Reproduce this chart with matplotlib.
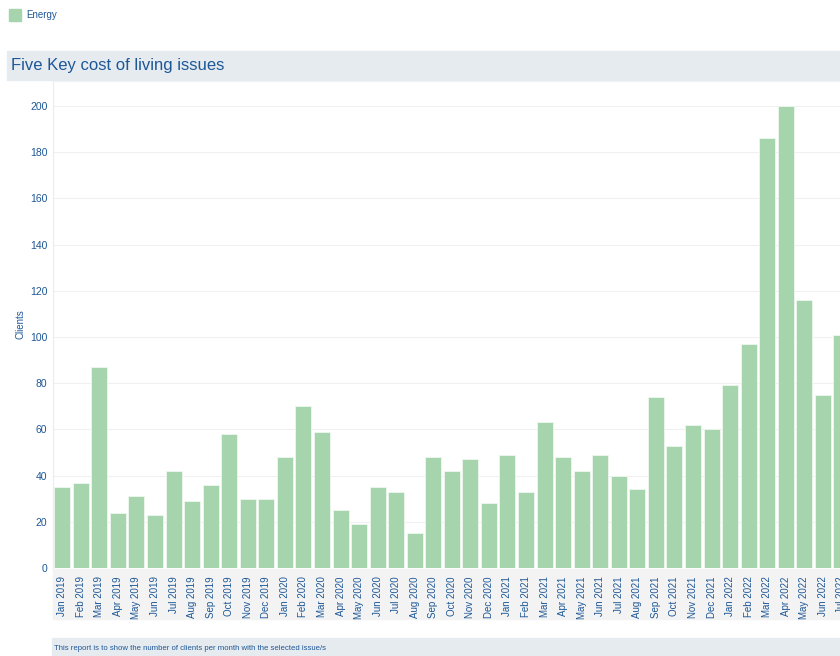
import matplotlib
matplotlib.use("Agg")
import matplotlib.pyplot as plt
from matplotlib.patches import Rectangle

plt.rcParams["font.family"] = ["Liberation Sans", "DejaVu Sans"]

months = [
    "Jan 2019", "Feb 2019", "Mar 2019", "Apr 2019", "May 2019", "Jun 2019",
    "Jul 2019", "Aug 2019", "Sep 2019", "Oct 2019", "Nov 2019", "Dec 2019",
    "Jan 2020", "Feb 2020", "Mar 2020", "Apr 2020", "May 2020", "Jun 2020",
    "Jul 2020", "Aug 2020", "Sep 2020", "Oct 2020", "Nov 2020", "Dec 2020",
    "Jan 2021", "Feb 2021", "Mar 2021", "Apr 2021", "May 2021", "Jun 2021",
    "Jul 2021", "Aug 2021", "Sep 2021", "Oct 2021", "Nov 2021", "Dec 2021",
    "Jan 2022", "Feb 2022", "Mar 2022", "Apr 2022", "May 2022", "Jun 2022",
    "Jul 2022",
]
energy = [
    35, 37, 87, 24, 31, 23, 42, 29, 36, 58, 30, 30,
    48, 70, 59, 25, 19, 35, 33, 15, 48, 42, 47, 28,
    49, 33, 63, 48, 42, 49, 40, 34, 74, 53, 62, 60,
    79, 97, 186, 200, 116, 75, 101,
]
y_ticks = [0, 20, 40, 60, 80, 100, 120, 140, 160, 180, 200]

BAR = "#a6d5ad"
BLUE = "#1d5796"
BAND = "#e6ebf0"

W, H = 840, 656
fig = plt.figure(figsize=(W / 100, H / 100), dpi=100)

def fx(px):
    return px / W

def fy(py):
    return 1 - py / H

def band(x0, y0, x1, y1, color):
    # rectangle in pixel coords, drawn behind the axes
    fig.patches.append(Rectangle((fx(x0), fy(y1)), fx(x1 - x0), (y1 - y0) / H,
                                 color=color, transform=fig.transFigure, zorder=-5))

# legend swatch + label
band(9, 9, 21, 21, BAR)
fig.text(fx(26), fy(15), "Energy", fontsize=7, color=BLUE, va="center")

# title band
band(7, 51, 850, 80, BAND)
fig.text(fx(11), fy(65.5), "Five Key cost of living issues", fontsize=12,
         color=BLUE, va="center")

# grey strip behind the month labels
band(53, 569, 850, 619, "#f3f3f3")

# footer band
band(52, 638, 850, 660, BAND)
fig.text(fx(54), fy(649), "This report is to show the number of clients per month with the selected issue/s",
         fontsize=5.6, color=BLUE, va="center")

n_visible = 46
ax_w = n_visible * 18.55 / W
ax = fig.add_axes([fx(53), fy(568), ax_w, (568 - 81) / H])
ax.set_facecolor("none")
x = list(range(len(months)))
ax.bar(x, energy, width=0.86, color=BAR, edgecolor="#eef7ef", linewidth=0.6, zorder=2)
ax.set_xlim(-0.5, n_visible - 0.5)
ax.set_ylim(0, 210.8)
ax.set_yticks(y_ticks)
ax.set_yticklabels([str(v) for v in y_ticks], fontsize=7.5, color=BLUE)
ax.set_xticks(x)
ax.set_xticklabels(months, rotation=90, fontsize=7, color=BLUE)
ax.tick_params(axis="both", length=0)
ax.tick_params(axis="y", pad=4)
ax.tick_params(axis="x", pad=6)
ax.grid(axis="y", color="#f0f0f0", linewidth=0.8, zorder=0)
for side in ["right", "bottom"]:
    ax.spines[side].set_visible(False)
ax.spines["left"].set_color("#ececec")
ax.spines["top"].set_color("#f2f2f2")
ax.set_ylabel("Clients", fontsize=7, color=BLUE)
ax.yaxis.set_label_coords(fx(25 - 53) / ax_w, 0.5)

fig.savefig("out.png", dpi=100)
